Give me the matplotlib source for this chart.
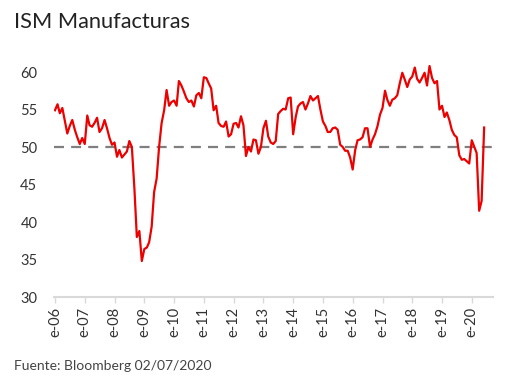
import matplotlib
matplotlib.use("Agg")
import matplotlib.pyplot as plt
import pandas as pd

plt.rcParams['font.family'] = ['Lato', 'DejaVu Sans']

title = "ISM Manufacturas"
source = "Fuente: Bloomberg 02/07/2020"

start_month = "2006-01-01"
ism_values = [
    # 2006
    54.9, 55.7, 54.5, 55.2, 53.5, 51.8, 52.8, 53.6, 52.3, 51.3, 50.4, 51.2,
    # 2007
    50.4, 54.2, 52.9, 52.7, 53.2, 53.9, 52.0, 52.5, 53.6, 52.5, 51.2, 50.3,
    # 2008
    50.6, 48.7, 49.6, 48.6, 49.0, 49.4, 50.8, 50.0, 44.5, 38.0, 38.8, 34.8,
    # 2009
    36.4, 36.6, 37.3, 39.4, 44.0, 45.8, 50.0, 53.2, 54.9, 57.6, 55.5, 56.0,
    # 2010
    56.2, 55.5, 58.8, 58.2, 57.4, 56.5, 56.0, 56.2, 55.4, 56.9, 57.2, 56.5,
    # 2011
    59.3, 59.2, 58.5, 57.8, 54.9, 55.5, 53.2, 52.8, 52.7, 53.4, 51.4, 51.7,
    # 2012
    53.1, 53.2, 52.6, 54.1, 52.9, 48.8, 50.0, 49.4, 51.0, 50.9, 49.1, 50.0,
    # 2013
    52.5, 53.5, 51.4, 50.6, 50.4, 50.8, 54.4, 54.8, 55.1, 55.0, 56.5, 56.6,
    # 2014
    51.7, 54.0, 55.4, 55.8, 56.0, 55.0, 55.8, 56.8, 56.2, 56.5, 56.8, 55.0,
    # 2015
    53.4, 52.8, 52.0, 52.0, 52.5, 52.6, 52.3, 50.3, 50.0, 49.5, 49.5, 48.6,
    # 2016
    47.0, 49.6, 50.9, 51.0, 51.3, 52.5, 52.5, 50.0, 51.0, 51.7, 52.8, 54.3,
    # 2017
    55.2, 57.5, 56.3, 55.5, 56.3, 56.5, 56.9, 58.5, 59.9, 59.0, 58.0, 59.0,
    # 2018
    59.4, 60.6, 59.1, 58.6, 59.2, 59.9, 58.2, 60.8, 59.2, 58.5, 58.8, 55.0,
    # 2019
    55.5, 54.0, 54.6, 53.6, 52.3, 51.6, 51.3, 48.9, 48.3, 48.4, 48.1, 47.8,
    # 2020
    50.9, 50.0, 49.2, 41.5, 42.8, 52.6,
]
reference_level = 50
y_ticks = [30, 35, 40, 45, 50, 55, 60]
tick_years = list(range(2006, 2021))
tick_labels = ["e-%02d" % (y % 100) for y in tick_years]

dates = pd.date_range(start_month, periods=len(ism_values), freq="MS")
tick_dates = pd.to_datetime(["%d-01-01" % y for y in tick_years])

fig = plt.figure(figsize=(5.16, 3.91), dpi=100)
ax = fig.add_axes([0.1047, 0.2404, 0.8503, 0.6138])

ax.axhline(reference_level, color="#7f7f7f", lw=1.6, ls=(0, (4.5, 3.2)), zorder=1)
ax.plot(dates, ism_values, color="#ec0000", lw=1.6, zorder=2)

ax.set_ylim(30, 62)
ax.set_xlim(pd.Timestamp("2005-12-20"), pd.Timestamp("2020-09-15"))
ax.set_yticks(y_ticks)
ax.set_xticks(tick_dates)
ax.set_xticklabels(tick_labels, rotation=90)

for s in ["top", "right", "left"]:
    ax.spines[s].set_visible(False)
ax.spines["bottom"].set_color("#d9d9d9")
ax.spines["bottom"].set_linewidth(1.5)
ax.tick_params(axis="y", length=0, pad=12, labelsize=10.5, labelcolor="#333333")
ax.tick_params(axis="x", length=4, width=1, color="#d9d9d9", pad=3,
               labelsize=10.5, labelcolor="#333333")

fig.text(0.027, 0.945, title, fontsize=15.7, color="#222222", va="center", ha="left")
fig.text(0.027, 0.065, source, fontsize=10, color="#444444", va="center", ha="left")

fig.savefig("out.png", dpi=100)
